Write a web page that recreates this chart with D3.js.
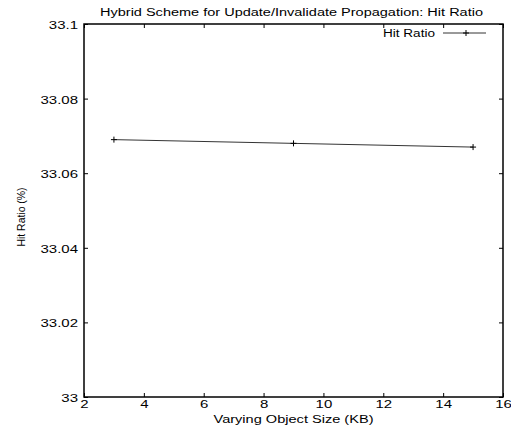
<!DOCTYPE html>
<html>
<head>
<meta charset="utf-8">
<script src="https://cdn.jsdelivr.net/npm/d3@7"></script>
<style>
  body { margin: 0; background: #fff; }
  text { font-family: "Liberation Sans", Arial, sans-serif; fill: #000; }
</style>
</head>
<body>
<div id="chart"></div>
<script>
// data
var sizes = [3, 9, 15];
var hitRatio = [33.069, 33.068, 33.067];
var xTicks = [2, 4, 6, 8, 10, 12, 14, 16];
var yTicks = [33, 33.02, 33.04, 33.06, 33.08, 33.1];
var seriesName = "Hit Ratio";

var width = 511, height = 430;
var margin = { top: 24, right: 8, bottom: 33, left: 84 },
    canvas_width = width - margin.left - margin.right,
    canvas_height = height - margin.top - margin.bottom;

// the reference font is drawn wide, so stretch the labels sideways
var stretch = 1.5;

var svg = d3.select("#chart")
    .append("svg")
    .attr("width", width)
    .attr("height", height);

var g = svg.append("g")
    .attr("transform", "translate(" + margin.left + "," + margin.top + ")");

var x_scale = d3.scaleLinear().domain([2, 16]).range([0, canvas_width]);
var y_scale = d3.scaleLinear().domain([33, 33.1]).range([canvas_height, 0]);

// ticks on all four sides, pointing inward (gnuplot style)
var tickLen = 4;
g.append("g")
    .attr("transform", "translate(0," + canvas_height + ")")
    .call(d3.axisBottom(x_scale).tickValues(xTicks).tickSizeInner(-tickLen).tickSizeOuter(0).tickPadding(4).tickFormat(d3.format("d")))
    .call(function (a) { a.select(".domain").remove(); })
    .selectAll("text")
    .style("font-size", "10px")
    .attr("transform", "scale(" + stretch + ",1)");

g.append("g")
    .call(d3.axisTop(x_scale).tickValues(xTicks).tickSizeInner(-tickLen).tickSizeOuter(0).tickFormat(""))
    .call(function (a) { a.select(".domain").remove(); });

g.append("g")
    .call(d3.axisLeft(y_scale).tickValues(yTicks).tickSizeInner(-tickLen).tickSizeOuter(0).tickPadding(4)
        .tickFormat(function (d) { return +d.toFixed(2) + ""; }))
    .call(function (a) { a.select(".domain").remove(); })
    .selectAll("text")
    .style("font-size", "10px")
    .attr("dy", "0.45em")
    .attr("transform", "scale(" + stretch + ",1)");

g.append("g")
    .attr("transform", "translate(" + canvas_width + ",0)")
    .call(d3.axisRight(y_scale).tickValues(yTicks).tickSizeInner(-tickLen).tickSizeOuter(0).tickFormat(""))
    .call(function (a) { a.select(".domain").remove(); });

// frame
g.append("rect")
    .attr("width", canvas_width)
    .attr("height", canvas_height)
    .attr("fill", "none")
    .attr("stroke", "#000")
    .attr("stroke-width", 1.5);

var data = sizes.map(function (s, i) { return { x: s, y: hitRatio[i] }; });

var line = d3.line()
    .x(function (d) { return x_scale(d.x); })
    .y(function (d) { return y_scale(d.y); });

g.append("path")
    .datum(data)
    .attr("d", line)
    .attr("fill", "none")
    .attr("stroke", "#000")
    .attr("stroke-width", 0.8);

function drawPlus(sel, px, py) {
    sel.append("path")
        .attr("d", "M" + (px - 3) + "," + py + "H" + (px + 3) + "M" + px + "," + (py - 3) + "V" + (py + 3))
        .attr("stroke", "#000")
        .attr("stroke-width", 1);
}
data.forEach(function (d) { drawPlus(g, x_scale(d.x), y_scale(d.y)); });

// legend, top right inside the frame
var lg = g.append("g").attr("transform", "translate(" + (canvas_width - 37) + ",9)");
lg.append("text")
    .attr("x", -31)
    .attr("y", 3.5)
    .attr("text-anchor", "end")
    .style("font-size", "10px")
    .attr("textLength", 52)
    .attr("lengthAdjust", "spacingAndGlyphs")
    .text(seriesName);
lg.append("line")
    .attr("x1", -23).attr("x2", 20)
    .attr("stroke", "#000").attr("stroke-width", 0.8);
drawPlus(lg, 0, 0);

// title and axis labels
svg.append("text")
    .attr("x", 291.5)
    .attr("y", 16)
    .attr("text-anchor", "middle")
    .style("font-size", "10px")
    .attr("textLength", 383)
    .attr("lengthAdjust", "spacingAndGlyphs")
    .text("Hybrid Scheme for Update/Invalidate Propagation: Hit Ratio");

svg.append("text")
    .attr("x", margin.left + canvas_width / 2)
    .attr("y", 423)
    .attr("text-anchor", "middle")
    .style("font-size", "10px")
    .attr("textLength", 160)
    .attr("lengthAdjust", "spacingAndGlyphs")
    .text("Varying Object Size (KB)");

svg.append("text")
    .attr("transform", "translate(25,217) rotate(-90)")
    .attr("text-anchor", "middle")
    .style("font-size", "11px")
    .attr("textLength", 59)
    .attr("lengthAdjust", "spacingAndGlyphs")
    .text("Hit Ratio (%)");
</script>
</body>
</html>
